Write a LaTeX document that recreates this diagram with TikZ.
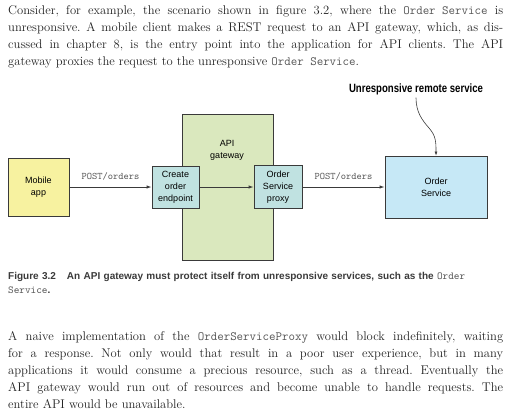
\documentclass[tikz,border=0pt]{standalone}
\usepackage{fontspec}
\setsansfont{Liberation Sans}
\newfontfamily\calloutfont[FakeStretch=0.8]{Liberation Sans}
\usetikzlibrary{positioning,arrows.meta}

\definecolor{mobileyellow}{HTML}{F7F2A0}
\definecolor{gatewaygreen}{HTML}{DAE8BE}
\definecolor{endpointteal}{HTML}{C0E2E1}
\definecolor{serviceblue}{HTML}{C6E8F6}
\definecolor{linegray}{HTML}{3A3A3A}
\definecolor{bodyink}{HTML}{222222}
\definecolor{codeink}{HTML}{555555}

\newcommand\codetext[1]{{\ttfamily\color{codeink}#1}}

\tikzset{
  box/.style={draw=linegray, line width=0.9pt, align=center, inner sep=0pt,
    font=\sffamily\fontsize{9}{12}\selectfont},
  flow/.style={draw=linegray, line width=0.9pt, -{Latex[length=5pt,width=3.5pt]}},
  msg/.style={font=\ttfamily\fontsize{10}{11}\selectfont, text=codeink},
  para/.style={anchor=base west, inner sep=0pt, text width=495pt, align=justify,
    text=bodyink, font=\frenchspacing\fontsize{12.6}{17}\selectfont},
}

\begin{document}
\begin{tikzpicture}[x=1pt, y=-1pt]
  \useasboundingbox (0,0) rectangle (511,418);

  % text above
  \node[para] (intro) at (8,14) {Consider, for example, the scenario shown in figure 3.2, where the \codetext{Order Service} is\linebreak
    unresponsive. A mobile client makes a REST request to an API gateway, which, as dis-\linebreak
    cussed in chapter 8, is the entry point into the application for API clients. The API\linebreak
    gateway proxies the request to the unresponsive \codetext{Order Service}.};

  % boxes
  \node[box, fill=gatewaygreen, minimum width=91pt, minimum height=146pt] (gateway) at (227.5,187) {};
  \node[box, draw=none, fill=none] (gatewaytitle) at (227,150) {API\\gateway};
  \node[box, fill=mobileyellow, minimum width=61pt, minimum height=58pt] (mobile) at (38.5,187) {Mobile\\app};
  \node[box, fill=endpointteal, minimum width=47pt, minimum height=42pt] (endpoint) at (175.5,187) {Create\\order\\endpoint};
  \node[box, fill=endpointteal, minimum width=48pt, minimum height=43pt] (proxy) at (278,187) {Order\\Service\\proxy};
  \node[box, fill=serviceblue, minimum width=102pt, minimum height=62pt] (service) at (436,187) {Order\\Service};

  % arrows
  \draw[flow] (mobile) -- node[msg, above=3pt] {POST/orders} (endpoint);
  \draw[flow] (endpoint) -- (proxy);
  \draw[flow] (proxy) -- node[msg, above=3pt] {POST/orders} (service);

  % callout
  \node[anchor=base, font=\calloutfont\bfseries\fontsize{12}{14}\selectfont, inner sep=0pt] (remote) at (416,92) {Unresponsive remote service};
  \draw[line width=0.6pt, draw=linegray, -{Latex[length=4pt,width=3pt]}]
    ([yshift=-3pt]remote.south) .. controls (416,112) and (422,120) .. (429,128)
    .. controls (436,136) and (436,142) .. (service.north);

  % caption
  \node[anchor=base west, inner sep=0pt, text width=495pt, text=linegray, align=left,
    font=\sffamily\bfseries\fontsize{10}{14.5}\selectfont] (caption) at (8,279)
    {Figure 3.2\hspace{1.1em}An API gateway must protect itself from unresponsive services, such as the {\mdseries\fontsize{10.7}{14.5}\selectfont\codetext{Order}}\\
     {\mdseries\fontsize{10.7}{14.5}\selectfont\codetext{Service}}.};

  % text below
  \node[para] (naive) at (8,340.5) {A naive implementation of the \codetext{OrderServiceProxy} would block indefinitely, waiting\linebreak
    for a response. Not only would that result in a poor user experience, but in many\linebreak
    applications it would consume a precious resource, such as a thread. Eventually the\linebreak
    API gateway would run out of resources and become unable to handle requests. The\linebreak
    entire API would be unavailable.};
\end{tikzpicture}
\end{document}
